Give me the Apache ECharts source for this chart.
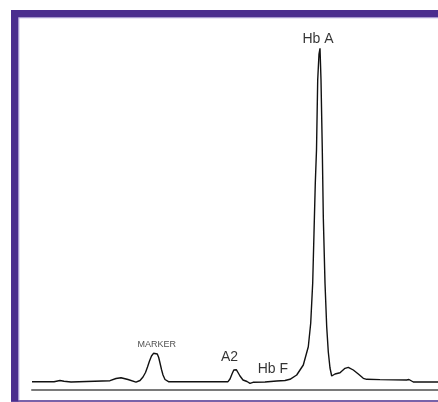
<!DOCTYPE html>
<html>
<head>
<meta charset="utf-8">
<script src="https://cdn.jsdelivr.net/npm/echarts@6/dist/echarts.min.js"></script>
<style>html,body{margin:0;padding:0;background:#fff;}#c{width:438px;height:402px;}</style>
</head>
<body>
<div id="c"></div>
<script>
// Migration position (x) and absorbance (y)
const positions = [0,22,24,28,29,32,34,39,41,78,84,89,96,104,108,111,113.5,115.5,117.5,119.5,121.5,123.5,125.3,126.7,128,129.5,131,133,135,136.5,196,198,200,201.8,203,204.3,206,208,211,215,218,221,233,244.7,253,258,264.7,271.3,276.3,278.7,280.7,282,283.3,284.5,285.7,287,288,289,290.3,291.3,293,294.7,296.3,298,299.7,303,308,313,316.3,321.3,326.3,331.3,334.7,348,374.7,377,378,381.3,406];
const absorbance = [0.3,0.3,1.7,1.5,0,0.8,0,0,1.3,1.3,3.5,4.3,2.5,-0.2,1.5,5,9.5,15,21,26,28.7,29.3,28,24.5,19,12.5,7,2.5,0.7,0.3,0.3,3,8,12,13,12.3,9.5,6,2,0.5,-1.3,-0.3,0,1,1.5,2.7,7,17,35.3,58.7,99,149,199,232,302,328,333.7,302,232,165,99,55.3,30,14,6,8,9.3,13.7,14.7,12,8,3.7,2.7,2.4,2,2.5,1.3,0,0];
// Peak labels
const labelNames = ['Hb A','MARKER','A2','Hb F'];
const labelX = [286,124.7,197.5,240.8];
const labelY = [342.5,37.5,25,13.3];
const labelSizes = [14,9,14,14];

const trace = positions.map((x,i)=>[x,absorbance[i]]);
const labels = labelNames.map((n,i)=>({name:n,value:[labelX[i],labelY[i]],label:{fontSize:labelSizes[i],color:labelSizes[i]<10?'#222':'#000'}}));

const purple = '#4b2e8e';
const chart = echarts.init(document.getElementById('c'),null,{renderer:'canvas'});
chart.setOption({
  animation:false,
  backgroundColor:'#fff',
  grid:{left:32,right:0,top:0,bottom:12},
  xAxis:{type:'value',min:0,max:406,axisLine:{show:true,onZero:false,lineStyle:{color:'#7a7a7a',width:2}},axisTick:{show:false},axisLabel:{show:false},splitLine:{show:false}},
  yAxis:{type:'value',min:-8,max:382,axisLine:{show:false},axisTick:{show:false},axisLabel:{show:false},splitLine:{show:false}},
  series:[
    {type:'line',data:trace,showSymbol:false,symbol:'none',lineStyle:{color:'#111',width:1.4},smooth:false},
    {type:'scatter',data:labels,symbolSize:0,label:{show:true,position:'inside',color:'#000',formatter:'{b}',fontFamily:'Liberation Sans, Arial, sans-serif',align:'center',verticalAlign:'middle'}}
  ],
  graphic:[
    {type:'rect',shape:{x:11,y:10,width:427,height:7.5},style:{fill:purple},z:100},
    {type:'rect',shape:{x:11,y:10,width:7.5,height:391.5},style:{fill:purple},z:100},
    {type:'rect',shape:{x:11,y:400.3,width:427,height:1.4},style:{fill:purple},z:100},
    {type:'rect',shape:{x:18.5,y:17.5,width:419.5,height:0.8},style:{fill:'#a99bd8'},z:100},
    {type:'rect',shape:{x:18.5,y:17.5,width:0.8,height:383},style:{fill:'#a99bd8'},z:100}
  ]
});
</script>
</body>
</html>
